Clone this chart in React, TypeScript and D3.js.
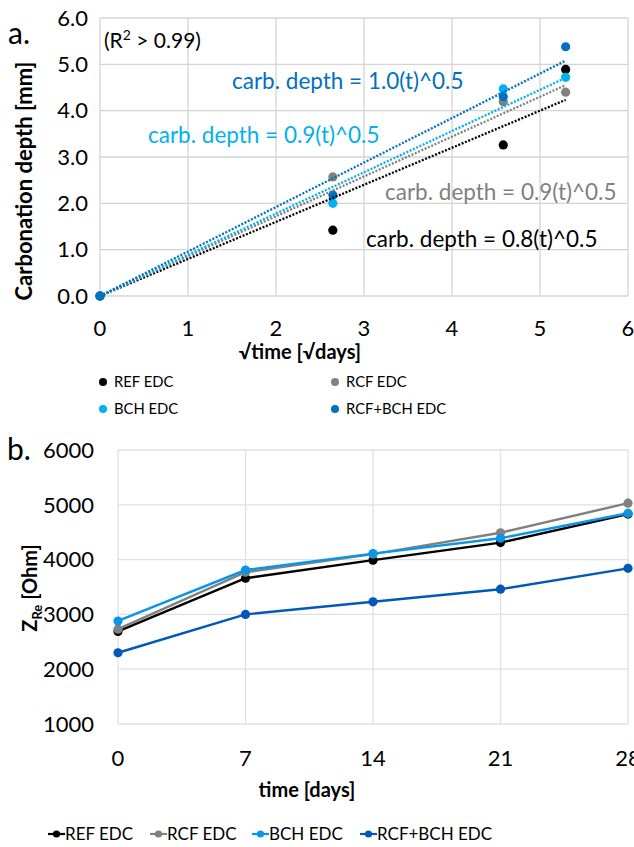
import React from "react";
import * as d3 from "d3";

// Carbonation depth vs sqrt(time)
const sqrtDays = [0, Math.sqrt(7), Math.sqrt(21), Math.sqrt(28)];
const seriesNames = ["REF EDC", "RCF EDC", "BCH EDC", "RCF+BCH EDC"];
const carbRef = [0, 1.42, 3.26, 4.89];
const carbRcf = [0, 2.57, 4.19, 4.4];
const carbBch = [0, 2.0, 4.47, 4.72];
const carbRcfBch = [0, 2.18, 4.3, 5.38];
const trendSlopes = [0.8, 0.86, 0.89, 0.96];
const carbTicksX = [0, 1, 2, 3, 4, 5, 6];
const carbTicksY = [0, 1, 2, 3, 4, 5, 6];

// Impedance vs time
const days = [0, 7, 14, 21, 28];
const zRef = [2690, 3660, 3990, 4310, 4830];
const zRcf = [2730, 3770, 4100, 4490, 5030];
const zBch = [2880, 3810, 4110, 4390, 4845];
const zRcfBch = [2300, 3000, 3230, 3460, 3840];
const zTicksY = [1000, 2000, 3000, 4000, 5000, 6000];

const colorsA = ["#000000", "#808080", "#00b0f0", "#0070c0"];
const colorsB = ["#000000", "#808080", "#0a96e6", "#0058b8"];

const FONT = "Lato, 'Open Sans', sans-serif";
const TICK = 22;

export default function App() {
  // panel a
  const xA = d3.scaleLinear().domain([0, 6]).range([100, 628]);
  const yA = d3.scaleLinear().domain([0, 6]).range([296, 18]);
  const carbSeries = [carbRef, carbRcf, carbBch, carbRcfBch];
  const trendEndX = sqrtDays[sqrtDays.length - 1];

  const trendLabels = [
    { i: 3, x: 232, y: 89 },
    { i: 2, x: 148, y: 143 },
    { i: 1, x: 385, y: 200 },
    { i: 0, x: 366, y: 247 },
  ];

  // panel b
  const xB = d3.scaleLinear().domain([0, 28]).range([118, 628]);
  const yB = d3.scaleLinear().domain([1000, 6000]).range([724, 450]);
  const zSeries = [zRef, zRcf, zBch, zRcfBch];
  const line = d3
    .line<number>()
    .x((_, i) => xB(days[i]))
    .y((d) => yB(d));

  const legendBX = [48, 150, 252, 360];

  return (
    <svg
      width={634}
      height={847}
      style={{ position: "absolute", left: 0, top: 0, background: "#fff" }}
      fontFamily={FONT}
    >
      {/* ---------- panel a ---------- */}
      <text x={8} y={44} fontSize={30}>a.</text>
      {carbTicksX.map((t) => (
        <line key={"ax" + t} x1={xA(t)} x2={xA(t)} y1={yA(6)} y2={yA(0)} stroke="#d4d4d4" strokeWidth={1.3} />
      ))}
      {carbTicksY.map((t) => (
        <line key={"ay" + t} x1={xA(0)} x2={xA(6)} y1={yA(t)} y2={yA(t)} stroke="#d4d4d4" strokeWidth={1.3} />
      ))}
      {carbTicksY.map((t) => (
        <text key={"aty" + t} x={88} y={yA(t)} dy="0.35em" textAnchor="end" fontSize={TICK}>
          {t.toFixed(1)}
        </text>
      ))}
      {carbTicksX.map((t) => (
        <text key={"atx" + t} x={xA(t)} y={336} textAnchor="middle" fontSize={TICK}>
          {t}
        </text>
      ))}
      <text
        transform={`translate(32,181) rotate(-90)`}
        textAnchor="middle"
        fontSize={22}
        fontWeight="bold"
      >
        Carbonation depth [mm]
      </text>
      <text x={300} y={359} textAnchor="middle" fontSize={20} fontWeight="bold">
        √time [√days]
      </text>
      <text x={104} y={48} fontSize={21}>
        (R<tspan dy={-8} fontSize={14}>2</tspan>
        <tspan dy={8}> &gt; 0.99)</tspan>
      </text>

      {carbSeries.map((s, k) =>
        s.map((v, i) => (
          <circle key={"p" + k + "-" + i} cx={xA(sqrtDays[i])} cy={yA(v)} r={4.6} fill={colorsA[k]} />
        ))
      )}
      {trendSlopes.map((m, k) => (
        <line
          key={"tr" + k}
          x1={xA(0)}
          y1={yA(0)}
          x2={xA(trendEndX)}
          y2={yA(m * trendEndX)}
          stroke={colorsA[k]}
          strokeWidth={2.3}
          strokeDasharray="2 1.6"
        />
      ))}
      {trendLabels.map((l) => (
        <text key={"tl" + l.i} x={l.x} y={l.y} fontSize={22.5} fill={colorsA[l.i]}>
          {`carb. depth = ${trendSlopes[l.i].toFixed(1)}(t)^0.5`}
        </text>
      ))}

      {seriesNames.map((n, k) => {
        const lx = k % 2 === 0 ? 103 : 335;
        const ly = k < 2 ? 382 : 409;
        return (
          <g key={"la" + k}>
            <circle cx={lx} cy={ly} r={4} fill={colorsA[k]} />
            <text x={lx + 11} y={ly} dy="0.35em" fontSize={14.8}>
              {n}
            </text>
          </g>
        );
      })}

      {/* ---------- panel b ---------- */}
      <text x={7} y={460} fontSize={30}>b.</text>
      {days.slice(1).map((t) => (
        <line key={"bx" + t} x1={xB(t)} x2={xB(t)} y1={yB(6000)} y2={yB(1000)} stroke="#e0e0e0" strokeWidth={1.3} />
      ))}
      {zTicksY.map((t) => (
        <line key={"by" + t} x1={xB(0)} x2={xB(28)} y1={yB(t)} y2={yB(t)} stroke="#e0e0e0" strokeWidth={1.3} />
      ))}
      <line x1={xB(0)} x2={xB(0)} y1={yB(6000)} y2={yB(1000)} stroke="#e0e0e0" strokeWidth={1.3} />
      {zTicksY.map((t) => (
        <text key={"bty" + t} x={94} y={yB(t)} dy="0.35em" textAnchor="end" fontSize={TICK}>
          {t}
        </text>
      ))}
      {days.map((t) => (
        <text key={"btx" + t} x={xB(t)} y={766} textAnchor="middle" fontSize={TICK}>
          {t}
        </text>
      ))}
      <text transform={`translate(37,588) rotate(-90)`} textAnchor="middle" fontSize={20} fontWeight="bold">
        Z<tspan dy={5} fontSize={13}>Re</tspan>
        <tspan dy={-5}> [Ohm]</tspan>
      </text>
      <text x={307} y={797} textAnchor="middle" fontSize={20} fontWeight="bold">
        time [days]
      </text>

      {zSeries.map((s, k) => (
        <g key={"zs" + k}>
          <path d={line(s) || ""} fill="none" stroke={colorsB[k]} strokeWidth={2.4} />
          {s.map((v, i) => (
            <circle key={i} cx={xB(days[i])} cy={yB(v)} r={4.6} fill={colorsB[k]} />
          ))}
        </g>
      ))}

      {seriesNames.map((n, k) => {
        const lx = legendBX[k];
        const ly = 834;
        return (
          <g key={"lb" + k}>
            <line x1={lx} x2={lx + 17} y1={ly} y2={ly} stroke={colorsB[k]} strokeWidth={2.2} />
            <circle cx={lx + 8.5} cy={ly} r={3.6} fill={colorsB[k]} />
            <text x={lx + 17} y={ly} dy="0.35em" fontSize={17}>
              {n}
            </text>
          </g>
        );
      })}
    </svg>
  );
}
